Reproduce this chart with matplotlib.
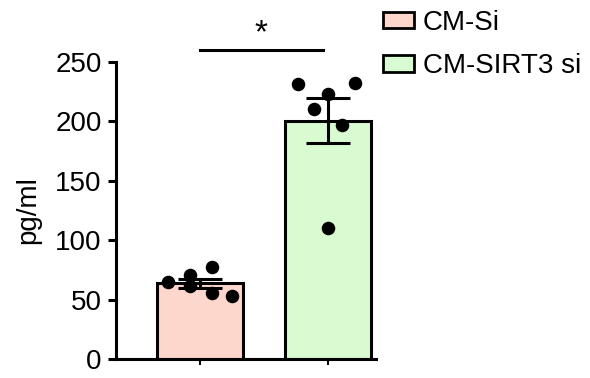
import matplotlib
matplotlib.use("Agg")
import matplotlib.pyplot as plt
import numpy as np
from matplotlib.patches import Patch

plt.rcParams['font.family'] = ['Liberation Sans', 'DejaVu Sans']

groups = ["CM-Si", "CM-SIRT3 si"]
colors = ["#fdd7cc", "#d9fbd1"]
points_si = [64.8, 70.7, 61.7, 77.7, 55.3, 53.3]
points_sirt3 = [231.5, 222.8, 232.0, 210.4, 197.0, 110.0]
offsets_si = [-0.25, -0.08, -0.08, 0.09, 0.09, 0.25]
offsets_sirt3 = [-0.23, 0.0, 0.21, -0.11, 0.11, 0.0]
yticks = [0, 50, 100, 150, 200, 250]
sig_y = 260
sig_label = "*"

data = [points_si, points_sirt3]
offs = [offsets_si, offsets_sirt3]
means = [np.mean(d) for d in data]
sems = [np.std(d, ddof=1) / np.sqrt(len(d)) for d in data]

fig = plt.figure(figsize=(5.9, 3.78), dpi=100)
ax = fig.add_axes([0.196, 0.050, 0.441, 0.786])
x = np.arange(len(groups))
ax.bar(x, means, width=0.672, color=colors, edgecolor="black", linewidth=2.2, zorder=2)
ax.errorbar(x, means, yerr=sems, fmt="none", ecolor="black", elinewidth=2.2,
            capsize=16, capthick=2.2, zorder=3)
for i in range(len(groups)):
    ax.scatter(x[i] + np.array(offs[i]), data[i], s=95, color="black", zorder=4,
               linewidths=0)

ax.set_xlim(-0.66, 1.375)
ax.set_ylim(0, 250)
ax.set_yticks(yticks)
ax.set_xticks(x)
ax.set_xticklabels([])
ax.tick_params(axis="y", labelsize=20, width=2.2, length=6, pad=4)
ax.tick_params(axis="x", width=1.5, length=4)
for s in ["top", "right"]:
    ax.spines[s].set_visible(False)
for s in ["left", "bottom"]:
    ax.spines[s].set_linewidth(2.2)
ax.set_ylabel("pg/ml", fontsize=20, labelpad=10)

# significance bar
ax.plot([x[0], x[1] - 0.04], [sig_y, sig_y], color="black", lw=2.2, clip_on=False)
ax.text((x[0] + x[1]) / 2 - 0.02, sig_y + 1, sig_label, ha="center", va="bottom",
        fontsize=24, clip_on=False)

handles = [Patch(facecolor=c, edgecolor="black", linewidth=2.0) for c in colors]
fig.legend(handles, groups, loc="upper left", bbox_to_anchor=(0.606, 1.04),
           frameon=False, fontsize=20, handlelength=1.15, handleheight=0.54,
           handletextpad=0.3, labelspacing=0.62)

fig.savefig("out.png", dpi=100)
